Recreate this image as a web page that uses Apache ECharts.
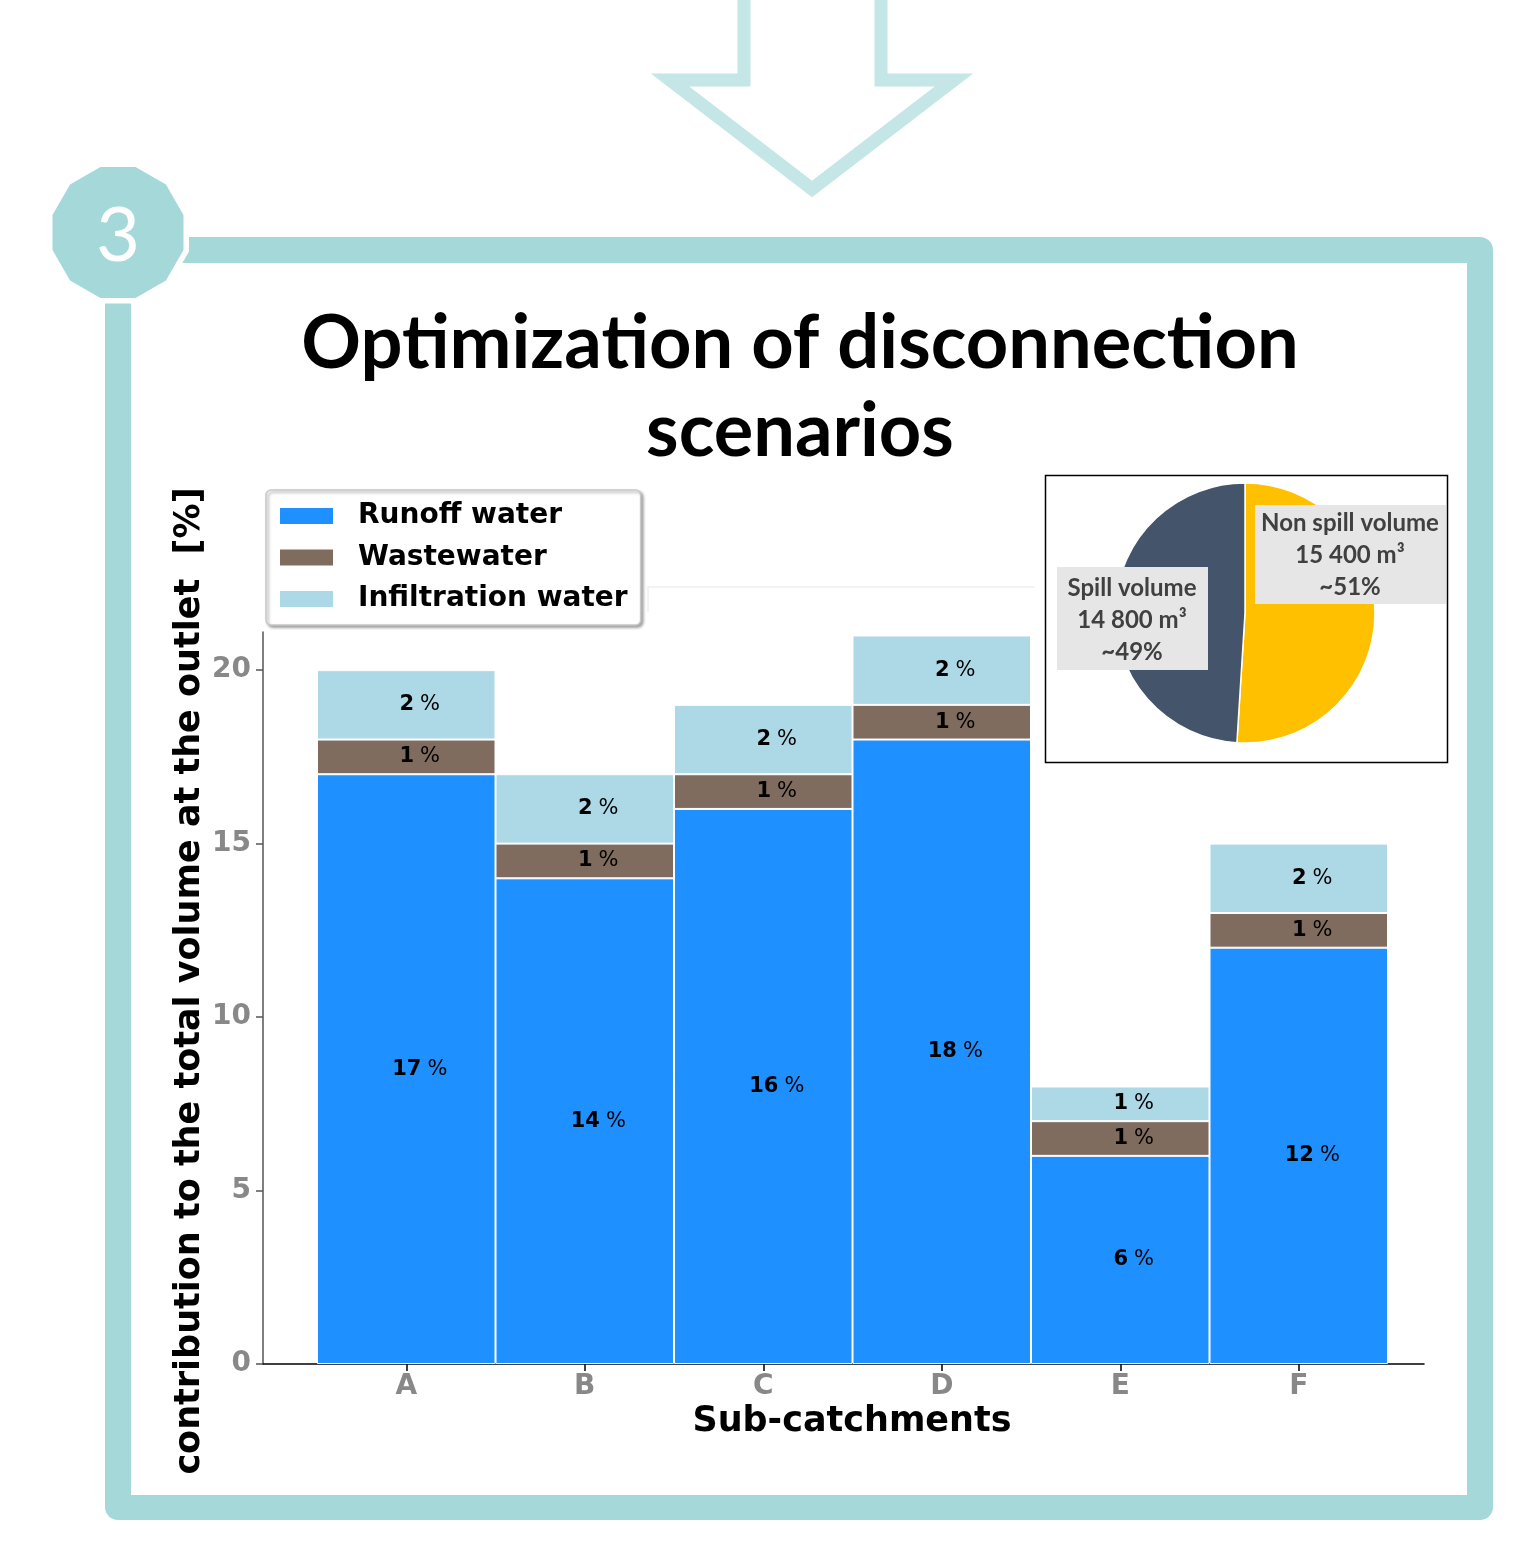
<!DOCTYPE html>
<html>
<head>
<meta charset="utf-8">
<script src="https://cdn.jsdelivr.net/npm/echarts@6/dist/echarts.min.js"></script>
<style>
html,body{margin:0;padding:0;background:#fff;}
#chart{width:1513px;height:1541px;}
</style>
</head>
<body>
<div id="chart"></div>
<script>
// ---- data ----
const categories = ['A', 'B', 'C', 'D', 'E', 'F'];
const runoff = [17, 14, 16, 18, 6, 12];
const wastewater = [1, 1, 1, 1, 1, 1];
const infiltration = [2, 2, 2, 2, 1, 2];
const seriesNames = ['Runoff water', 'Wastewater', 'Infiltration water'];
const yTicks = [0, 5, 10, 15, 20];
const pieNames = ['Non spill volume', 'Spill volume'];
const pieVolumes = [15400, 14800];
const piePercents = ['~51%', '~49%'];
const titleText = 'Optimization of disconnection\nscenarios';
const xName = 'Sub-catchments';
const yName = 'contribution to the total volume at the outlet  [%]';
const stepNumber = '3';

// ---- styles ----
const C_RUN = '#1e90ff', C_WASTE = '#7f6c5e', C_INF = '#add8e6';
const TEAL = '#a5d9d9', ARROW = '#c4e6e6';
const FONT = 'DejaVu Sans';
const Y_MAX = 21.1;

const chart = echarts.init(document.getElementById('chart'), null, {renderer: 'canvas'});

function fmtVol(v) { return String(v).replace(/\B(?=(\d{3})+(?!\d))/g, ' ') + ' m\u00B3'; }

function barLabel() {
  return {
    show: true, position: 'inside',
    formatter: p => '{p|}{b|' + p.value + '}{s|}{n|%}',
    rich: {
      p: {width: 27},
      s: {width: 6},
      b: {fontFamily: FONT, fontWeight: 'bold', fontSize: 21, color: '#000'},
      n: {fontFamily: FONT, fontWeight: 'normal', fontSize: 21, color: '#000'}
    }
  };
}

// dodecagon points for badge
function dodecagon(cx, cy, apothem) {
  const R = apothem / Math.cos(Math.PI / 12);
  const pts = [];
  for (let i = 0; i < 12; i++) {
    const a = Math.PI / 12 + i * Math.PI / 6;
    pts.push([cx + R * Math.cos(a), cy + R * Math.sin(a)]);
  }
  return pts;
}

const graphics = [
  // frame
  {type: 'rect', z: -10, shape: {x: 105, y: 237, width: 1388, height: 1283, r: 13}, style: {fill: TEAL}},
  {type: 'rect', z: -9, shape: {x: 131, y: 263, width: 1336, height: 1232}, style: {fill: '#fff'}},
  // badge
  {type: 'polygon', z: -8, shape: {points: dodecagon(118, 232.5, 71)}, style: {fill: '#fff'}},
  {type: 'polygon', z: -7, shape: {points: dodecagon(118, 232.5, 65.5)}, style: {fill: TEAL}},
  {type: 'text', z: -6, x: 118, y: 236, style: {text: stepNumber, fill: '#fff', font: 'normal 76px Lato', align: 'center', verticalAlign: 'middle'}},
  // arrow
  {type: 'polyline', z: -5, shape: {points: [[744, -20], [744, 80], [670, 80], [812, 189], [954, 80], [881, 80], [881, -20]]},
    style: {stroke: ARROW, lineWidth: 13, fill: null, lineJoin: 'miter', miterLimit: 10}},
  // title
  {type: 'text', z: 5, x: 800, y: 388, style: {text: titleText, fill: '#000', font: 'bold 74px Lato', align: 'center', verticalAlign: 'middle', lineHeight: 88}},
  // faint remnant line
  {type: 'polyline', z: -4, shape: {points: [[648, 612], [648, 587], [1035, 587]]}, style: {stroke: '#efefef', lineWidth: 1.5, fill: null}},
  // y axis name
  {type: 'text', z: 5, x: 190, y: 981, rotation: Math.PI / 2,
    style: {text: yName, fill: '#000', font: 'bold 35px "DejaVu Sans"', align: 'center', verticalAlign: 'middle'}},
  // x axis name
  {type: 'text', z: 5, x: 852, y: 1422,
    style: {text: xName, fill: '#000', font: 'bold 35px "DejaVu Sans"', align: 'center', verticalAlign: 'middle'}},
  // pie inset box
  {type: 'rect', z: 1, shape: {x: 1045.5, y: 475.5, width: 402, height: 287}, style: {fill: 'transparent', stroke: '#000', lineWidth: 1.5}},
  // pie labels
  {type: 'rect', z: 50, shape: {x: 1255, y: 505, width: 191, height: 99}, style: {fill: '#e7e6e6'}},
  {type: 'text', z: 51, x: 1350, y: 555, style: {text: pieNames[0] + '\n' + fmtVol(pieVolumes[0]) + '\n' + piePercents[0],
    fill: '#404040', font: 'bold 24px Lato', align: 'center', verticalAlign: 'middle', lineHeight: 32}},
  {type: 'rect', z: 50, shape: {x: 1057, y: 567, width: 151, height: 103}, style: {fill: '#e7e6e6'}},
  {type: 'text', z: 51, x: 1132, y: 620, style: {text: pieNames[1] + '\n' + fmtVol(pieVolumes[1]) + '\n' + piePercents[1],
    fill: '#404040', font: 'bold 24px Lato', align: 'center', verticalAlign: 'middle', lineHeight: 32}}
];

const option = {
  backgroundColor: '#fff',
  animation: false,
  legend: {
    orient: 'vertical', left: 266, top: 490,
    data: seriesNames,
    icon: 'rect', itemWidth: 55, itemHeight: 18, itemGap: 11.5,
    padding: [11, 13, 11, 12],
    backgroundColor: '#fff', borderColor: '#c8c8c8', borderWidth: 1.5, borderRadius: 5,
    shadowColor: 'rgba(0,0,0,0.35)', shadowBlur: 3, shadowOffsetX: 2, shadowOffsetY: 2,
    textStyle: {fontFamily: FONT, fontWeight: 'bold', fontSize: 28, color: '#000', lineHeight: 30, padding: [0, 0, 0, 19]},
    z: 20
  },
  grid: [
    {left: 263, right: 89, top: 632, height: 732, containLabel: false},
    {left: 317, right: 125, top: 632, height: 732, containLabel: false}
  ],
  xAxis: [
    {type: 'value', gridIndex: 0, min: 0, max: 1,
      axisLine: {show: true, lineStyle: {color: '#000', width: 1.5}},
      axisTick: {show: false}, axisLabel: {show: false}, splitLine: {show: false}},
    {type: 'category', gridIndex: 1, data: categories, boundaryGap: true,
      axisLine: {show: false},
      axisTick: {show: true, alignWithLabel: true, length: 7, lineStyle: {color: '#000', width: 1.5}},
      axisLabel: {margin: 9, fontFamily: FONT, fontWeight: 'bold', fontSize: 28, color: '#888'},
      splitLine: {show: false}}
  ],
  yAxis: [
    {type: 'value', gridIndex: 0, min: 0, max: Y_MAX,
      axisLine: {show: true, lineStyle: {color: '#555', width: 1.5}},
      axisTick: {show: true, length: 7, customValues: yTicks, lineStyle: {color: '#555', width: 1.5}},
      axisLabel: {show: true, customValues: yTicks, margin: 12, fontFamily: FONT, fontWeight: 'bold', fontSize: 28, color: '#888'},
      splitLine: {show: false}},
    {type: 'value', gridIndex: 1, min: 0, max: Y_MAX, show: false}
  ],
  series: [
    {name: seriesNames[0], type: 'bar', stack: 'total', xAxisIndex: 1, yAxisIndex: 1, data: runoff,
      barCategoryGap: '0%', itemStyle: {color: C_RUN, borderColor: '#fff', borderWidth: 1}, label: barLabel()},
    {name: seriesNames[1], type: 'bar', stack: 'total', xAxisIndex: 1, yAxisIndex: 1, data: wastewater,
      barCategoryGap: '0%', itemStyle: {color: C_WASTE, borderColor: '#fff', borderWidth: 1}, label: barLabel()},
    {name: seriesNames[2], type: 'bar', stack: 'total', xAxisIndex: 1, yAxisIndex: 1, data: infiltration,
      barCategoryGap: '0%', itemStyle: {color: C_INF, borderColor: '#fff', borderWidth: 1}, label: barLabel()},
    {type: 'pie', center: [1245, 613], radius: 130, startAngle: 90, clockwise: true,
      label: {show: false}, labelLine: {show: false}, silent: true,
      itemStyle: {borderColor: '#fff', borderWidth: 1.5},
      data: [
        {name: pieNames[0], value: pieVolumes[0], itemStyle: {color: '#ffc000'}},
        {name: pieNames[1], value: pieVolumes[1], itemStyle: {color: '#44546a'}}
      ]}
  ],
  graphic: graphics
};
chart.setOption(option);
</script>
</body>
</html>
